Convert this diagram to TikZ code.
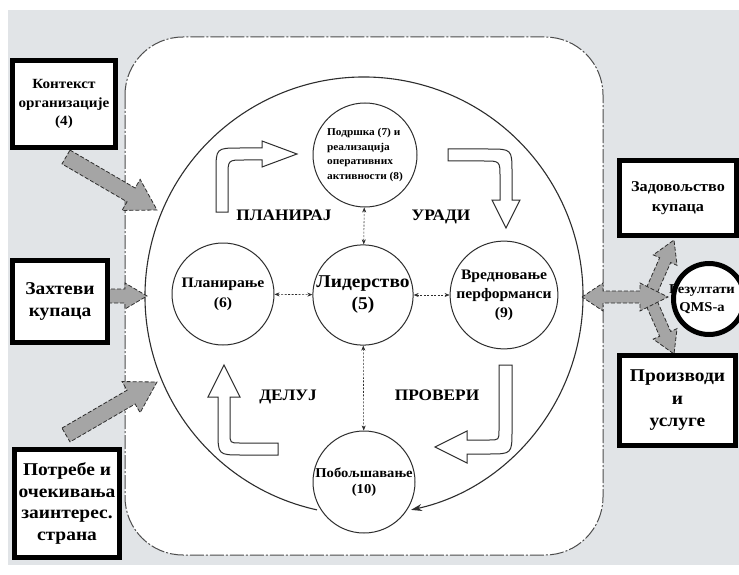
\documentclass[tikz,border=0pt]{standalone}
\usepackage{fontspec}
\setmainfont{Liberation Serif}[FakeStretch=1.08]
\usetikzlibrary{calc,arrows.meta}
\definecolor{bggray}{RGB}{225,228,231}
\definecolor{linec}{RGB}{45,45,45}
\definecolor{arrowgray}{RGB}{165,165,165}
\newcommand{\fsz}[2]{\fontsize{#1}{#2}\selectfont\bfseries}
% gray block arrow: #1 tail, #2 tip, #3 shaft half width, #4 head half width, #5 head length
\newcommand{\garrow}[5]{%
  \coordinate (gaC) at ($(#2)!#5!(#1)$);
  \draw[grayarrow] ($(#1)!#3!90:(#2)$) -- ($(gaC)!#3!90:(#2)$) -- ($(gaC)!#4!90:(#2)$) -- (#2)
    -- ($(gaC)!#4!-90:(#2)$) -- ($(gaC)!#3!-90:(#2)$) -- ($(#1)!#3!-90:(#2)$) -- cycle;}
\begin{document}
\begin{tikzpicture}[x=1pt,y=-1pt,
  smallc/.style={circle,draw=linec,line width=1pt,fill=white,inner sep=0pt,align=center,text=black},
  dashconn/.style={draw=linec,line width=0.6pt,dash pattern=on 2pt off 1.5pt,
    {Stealth[length=5pt,width=4pt]}-{Stealth[length=5pt,width=4pt]}},
  frame/.style={draw=linec!85,line width=1pt,fill=white,rounded corners=58pt,
    dash pattern=on 14pt off 2pt on 2pt off 2pt},
  bigc/.style={draw=linec,line width=1.1pt},
  hollow/.style={draw=linec,line width=1pt,fill=white},
  grayarrow/.style={draw=linec,line width=0.8pt,fill=arrowgray,dash pattern=on 4pt off 2pt},
  blackbox/.style={draw=black,line width=5pt,fill=white,inner sep=0pt,align=center},
  lbl/.style={font={\fsz{16}{18}},inner sep=0pt}
]
\useasboundingbox (0,0) rectangle (739,575);
\clip (0,0) rectangle (739,575);
\fill[white] (0,0) rectangle (739,575);
\fill[bggray] (8,10) rectangle (739,565);
\path[frame] (125,37) rectangle (603,555);
% big PDCA circle
\draw[bigc,-{Stealth[length=11pt,width=7pt]}] ($(364,296)+(102.4:219)$) arc[start angle=257.6,end angle=-77.6,radius=219pt];
% small circles
\node[smallc,minimum size=104pt,align=left,font={\fsz{10.5}{14.5}}] (supp) at (365,155)
  {Подршка (7) и\\реализација\\оперативних\\активности (8)};
\node[smallc,minimum size=100pt,font={\fsz{18}{22}}] (lead) at (363,295) {Лидерство\\(5)};
\node[smallc,minimum size=102pt,font={\fsz{14.5}{20}}] (plan) at (223,294) {Планирање\\(6)};
\node[smallc,minimum size=104pt,font={\fsz{14.5}{19}}] (eval) at (504,295) {Вредновање\\перформанси\\(9)};
\node[smallc,minimum size=102pt,font={\fsz{13.5}{16}}] (impr) at (364,482) {Побољшавање\\(10)};
% dashed connectors
\draw[dashconn] (plan) -- (lead);
\draw[dashconn] (lead) -- (eval);
\draw[dashconn] (supp) -- (lead);
\draw[dashconn] (lead) -- (impr);
% hollow curved arrows
\draw[hollow] (216,212) -- (216,172) .. controls (216,148) .. (240,148) -- (262,148) -- (262,141)
  -- (297,154) -- (262,167) -- (262,160) -- (244,160) .. controls (228,160) .. (228,176) -- (228,212) -- cycle;
\draw[hollow] (448,149) -- (488,149) .. controls (512,149) .. (512,173) -- (512,200) -- (520,200)
  -- (506,228) -- (492,200) -- (500,200) -- (500,177) .. controls (500,161) .. (484,161) -- (448,161) -- cycle;
\draw[hollow] (499,365) -- (512,365) -- (512,430) .. controls (512,454) .. (488,454) -- (467,454) -- (467,463)
  -- (435,447) -- (467,431) -- (467,440) -- (489,440) .. controls (499,440) .. (499,430) -- cycle;
\draw[hollow] (278,443) -- (278,455) -- (242,455) .. controls (218,455) .. (218,431) -- (218,397) -- (208,397)
  -- (224,365) -- (240,397) -- (230,397) -- (230,433) .. controls (230,443) .. (240,443) -- cycle;
% PDCA labels
\node[lbl] (lplan) at (284,215) {ПЛАНИРАЈ};
\node[lbl] (ldo) at (441,217) {УРАДИ};
\node[lbl] (lact) at (288,397) {ДЕЛУЈ};
\node[lbl] (lchk) at (437,395) {ПРОВЕРИ};
% gray input arrows
\coordinate (t1) at (66,157); \coordinate (h1) at (157,210);
\coordinate (t2) at (105,296); \coordinate (h2) at (147,296);
\coordinate (t3) at (66,435); \coordinate (h3) at (157,382);
\garrow{t1}{h1}{8pt}{18pt}{30pt}
\garrow{t2}{h2}{7pt}{13pt}{22pt}
\garrow{t3}{h3}{8pt}{18pt}{30pt}
% right side arrows
\coordinate (t4) at (652,290); \coordinate (h4) at (674,240);
\coordinate (t5) at (652,304); \coordinate (h5) at (674,354);
\garrow{t4}{h4}{6pt}{13pt}{22pt}
\garrow{t5}{h5}{6pt}{13pt}{22pt}
\draw[grayarrow] (582,297) -- (603,283) -- (603,291) -- (640,291) -- (640,283) -- (668,297)
  -- (640,311) -- (640,303) -- (603,303) -- (603,311) -- cycle;
% boxes
\node[blackbox,minimum width=103pt,minimum height=87pt,font={\fsz{14}{18.5}}] (ctx) at (64,104)
  {Контекст\\организације\\(4)};
\node[blackbox,minimum width=95pt,minimum height=82pt,font={\fsz{18}{22}}] (req) at (60,301.5)
  {Захтеви\\купаца};
\node[blackbox,minimum width=105pt,minimum height=108pt,font={\fsz{18}{21.5}}] (needs) at (67,503.5)
  {Потребе и\\очекивања\\заинтерес.\\страна};
\node[blackbox,minimum width=117pt,minimum height=75pt,font={\fsz{15}{20}}] (sat) at (678,198)
  {Задовољство\\купаца};
\node[blackbox,minimum width=116pt,minimum height=90pt,font={\fsz{18}{22.5}}] (prod) at (677.5,400.5)
  {Производи\\и\\услуге};
\node[blackbox,circle,minimum size=71pt] (res) at (709,299) {};
\node[inner sep=0pt,align=center,font={\fsz{13.5}{18}}] (restxt) at (702,299) {Резултати\\QMS-а};
\end{tikzpicture}
\end{document}
